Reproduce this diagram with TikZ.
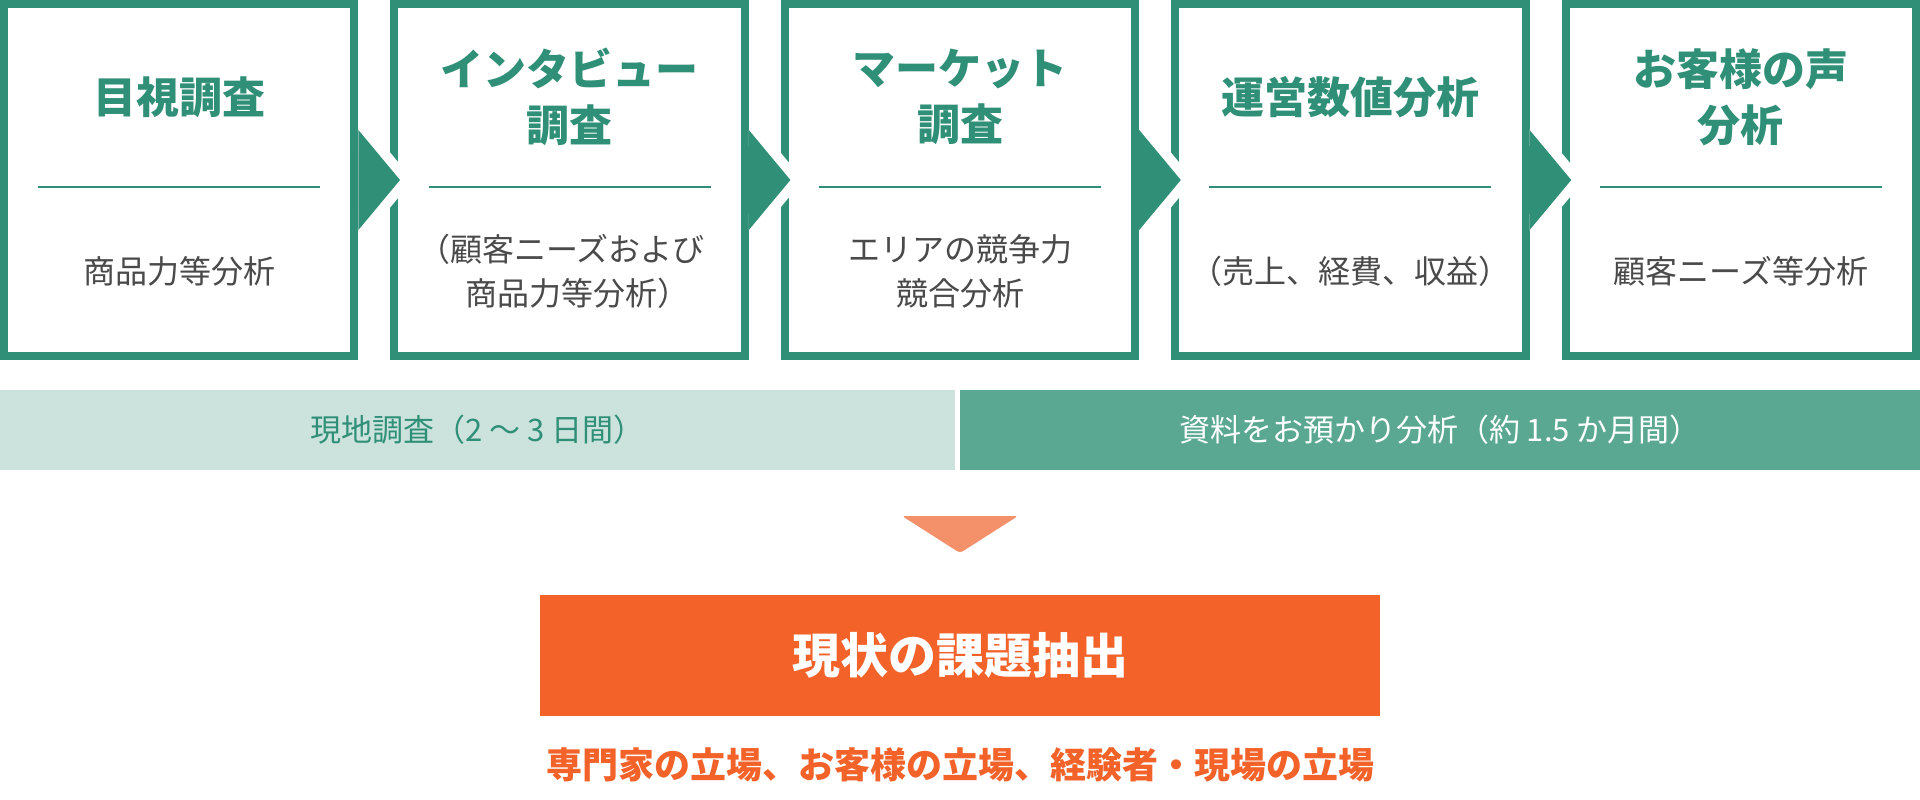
\documentclass[tikz,border=0pt]{standalone}
\usepackage{fontspec}
\setmainfont{Noto Sans CJK JP}
\usetikzlibrary{calc}
\definecolor{grn}{HTML}{2F8F77}
\definecolor{lbar}{HTML}{CBE3DC}
\definecolor{dbar}{HTML}{5AA892}
\definecolor{org}{HTML}{F26229}
\definecolor{lorg}{HTML}{F5916A}
\definecolor{gtxt}{HTML}{4A4A4A}
\newcommand{\halfw}[1]{{\addfontfeature{RawFeature=+halt}#1}}
\begin{document}
\begin{tikzpicture}[x=1pt,y=-1pt,
  stepbox/.style={draw=grn, line width=8pt, fill=white, minimum width=350.4pt, minimum height=352pt, inner sep=0pt, outer sep=0pt},
  ttl/.style={text=grn, font=\fontsize{43}{56}\selectfont\bfseries, align=center, inner sep=0pt},
  sub/.style={text=gtxt, font=\fontsize{32}{44}\selectfont, align=center, inner sep=0pt},
  divider/.style={draw=grn, line width=2pt},
  chev/.style={fill=grn},
  chevcut/.style={draw=white, line width=20pt},
  barbox/.style={minimum height=80pt, inner sep=0pt, outer sep=0pt, font=\fontsize{31}{40}\selectfont},
  resbox/.style={fill=org, text=white, minimum width=840pt, minimum height=121pt, inner sep=0pt, font=\fontsize{48}{56}\selectfont\bfseries},
  restxt/.style={text=org, inner sep=0pt, font=\fontsize{36}{44}\selectfont\bfseries}
]
\useasboundingbox (0,0) rectangle (1920,800);

% step boxes
\node[stepbox] (b1) at (179.2,180) {};
\node[stepbox] (b2) at (569.6,180) {};
\node[stepbox] (b3) at (960,180) {};
\node[stepbox] (b4) at (1350.4,180) {};
\node[stepbox] (b5) at (1740.8,180) {};

% chevrons between boxes
\foreach \a/\b in {b1/b2,b2/b3,b3/b4,b4/b5}{
  \coordinate (\a top) at ($(\a.center)+(179.2,-50)$);
  \coordinate (\a tip) at ($(\a.center)+(220.8,0)$);
  \coordinate (\a bot) at ($(\a.center)+(179.2,50)$);
  \begin{scope}
    \clip ($(\a.center)+(179.2,-110)$) rectangle ($(\b.center)+(-130,110)$);
    \draw[chevcut] (\a top) -- (\a tip) -- (\a bot);
  \end{scope}
  \fill[chev] (\a top) -- (\a tip) -- (\a bot) -- cycle;
}

% titles
\node[ttl] (t1) at (179.2,97) {目視調査};
\node[ttl] (t2) at (569.6,97) {インタビュー\\調査};
\node[ttl] (t3) at (960,97) {マーケット\\調査};
\node[ttl] (t4) at (1350.4,97) {運営数値分析};
\node[ttl] (t5) at (1740.8,97) {お客様の声\\分析};

% dividers
\foreach \n in {b1,b2,b3,b4,b5}{
  \draw[divider] ($(\n.center)+(-141,7)$) -- ($(\n.center)+(141,7)$);
}

% subtitles
\node[sub] (s1) at (179.2,271) {商品力等分析};
\node[sub] (s2) at (569.6,271) {\halfw{（}顧客ニーズおよび\\商品力等分析\halfw{）}};
\node[sub] (s3) at (960,271) {エリアの競争力\\競合分析};
\node[sub] (s4) at (1350.4,271) {（売上、経費、収益）};
\node[sub] (s5) at (1740.8,271) {顧客ニーズ等分析};

% bars
\node[barbox, fill=lbar, text=grn, minimum width=955pt] (bl) at (477.5,430) {現地調査（2 〜 3 日間）};
\node[barbox, fill=dbar, text=white, minimum width=960pt] (bd) at (1440,430) {資料をお預かり分析（約 1.5 か月間）};

% down arrow
\fill[lorg, rounded corners=3pt] (902,516) -- (1018,516) -- (960,553) -- cycle;

% result
\node[resbox] (res) at (960,655.5) {現状の課題抽出};
\node[restxt] (pts) at (960,765) {専門家の立場、お客様の立場、経験者・現場の立場};
\end{tikzpicture}
\end{document}
